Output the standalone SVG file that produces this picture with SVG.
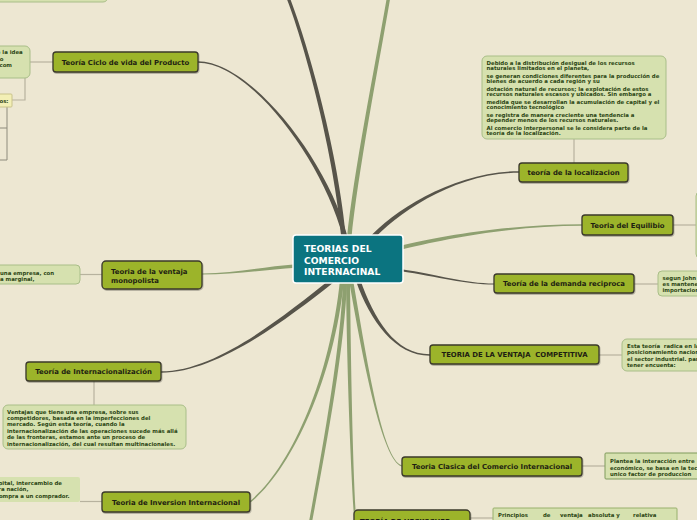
<svg xmlns="http://www.w3.org/2000/svg" width="697" height="520" viewBox="0 0 697 520">
<defs>
<style>
.node rect{fill:#9CB42B;stroke:#3B392A;stroke-width:1.3}
.nt{font-family:"DejaVu Sans",Verdana,sans-serif;font-weight:bold;font-size:6.9px;fill:#1E1E12}
.desc rect{fill:#D6E1AF;stroke:#A9BE88;stroke-width:1}
.dt{font-family:"DejaVu Sans",Verdana,sans-serif;font-weight:bold;font-size:5.4px;fill:#2C4614}
.lk{stroke:#B7B29E;stroke-width:1.2;fill:none}
.lk2{stroke:#8E8B7C;stroke-width:1;fill:none}
.dk{fill:#57544A}
.gr{fill:#8EA070}
</style>
<filter id="sh" x="-10%" y="-20%" width="120%" height="150%"><feDropShadow dx="0.6" dy="1" stdDeviation="0.6" flood-color="#000" flood-opacity="0.3"/></filter>
</defs>
<rect x="0" y="0" width="697" height="520" fill="#EDE7D2"/>

<g id="connectors">
<path class="dk" d="M347.2,235.4 C327.2,159.4 250,61.2 198,61.2 L198,62.8 C250,62.8 322.8,160.6 342.8,236.6 Z"/>
<path class="dk" d="M346.3,239.8 C338.3,149.8 306.5,39.4 288.5,-5.6 L285.5,-4.4 C303.5,40.6 333.7,150.2 341.7,240.2 Z"/>
<path class="gr" d="M351.2,240.2 C358.2,170.2 379.7,60.3 390.7,-4.7 L387.3,-5.3 C376.3,59.7 353.8,169.8 346.8,239.8 Z"/>
<path class="dk" d="M371.6,241.5 C396.6,213.5 455,172.8 519,172.8 L519,171.2 C455,171.2 393.4,210.5 368.4,238.5 Z"/>
<path class="gr" d="M400.5,249.9 C440.5,239.9 510,225.8 582,225.8 L582,224.2 C510,224.2 439.5,236.1 399.5,246.1 Z"/>
<path class="dk" d="M399.8,271.1 C439.8,277.1 465,284.6 494,284.6 L494,283.4 C465,283.4 440.2,274.9 400.2,268.9 Z"/>
<path class="dk" d="M355.9,280.7 C369.9,320.7 395,355.7 430,355.7 L430,354.3 C395,354.3 374.1,319.3 360.1,279.3 Z"/>
<path class="gr" d="M349,280.3 C363,360.3 381.9,460.5 401.9,466.6 L402.1,465.4 C382.1,459.5 367,359.7 353,279.7 Z"/>
<path class="gr" d="M346,280 C347,380 351,470 354,518 L356,518 C353,470 351,380 350,280 Z"/>
<path class="gr" d="M343,280 C341,350 320.5,459.7 307.5,529.7 L310.5,530.3 C323.5,460.3 345,350 347,280 Z"/>
<path class="gr" d="M340,279.8 C330,379.8 289.6,469.5 249.5,501.4 L250.5,502.6 C290.4,470.5 334,380.2 344,280.2 Z"/>
<path class="dk" d="M331.6,278.3 C278.6,320.3 215,371.3 161,371.3 L161,372.7 C215,372.7 281.4,323.7 334.4,281.7 Z"/>
<path class="gr" d="M296,264.3 C265,266.5 235,273.4 202,273.4 L202,274.6 C235,274.6 265,269.5 296,267.7 Z"/>
<path class="lk" d="M30,62 H53"/>
<path class="lk" d="M25,78 V100 H12"/>
<path class="lk2" d="M7,107 V160 H0 M0,128 H7"/>
<path class="lk" d="M80,274.5 H102"/>
<path class="lk" d="M94,381 V405"/>
<path class="lk" d="M80,501.5 H102"/>
<path class="lk" d="M574,139 V163"/>
<path class="lk" d="M673,225 H696"/>
<path class="lk" d="M634,284 H658"/>
<path class="lk" d="M599,355 H622"/>
<path class="lk" d="M582,466 H605"/>
<path class="lk" d="M470,518 H493"/>
</g>

<g id="center">
<rect x="293" y="235" width="110" height="48" rx="3" fill="#0B7480" stroke="#FFFFFF" stroke-width="1.5"/>
<text font-family="DejaVu Sans, Verdana, sans-serif" font-weight="bold" font-size="9.2" fill="#FFFFFF"><tspan x="304" y="252">TEORIAS DEL</tspan><tspan x="304" y="263.5">COMERCIO</tspan><tspan x="304" y="275">INTERNACINAL</tspan></text>
</g>

<g id="n-ciclo" class="node"><rect x="53" y="52" width="145" height="20" rx="3" filter="url(#sh)"/><text class="nt" x="125.5" y="64.5" text-anchor="middle">Teoría Ciclo de vida del Producto</text></g>
<g id="n-localizacion" class="node"><rect x="519" y="163" width="109" height="19" rx="3" filter="url(#sh)"/><text class="nt" x="573.5" y="175" text-anchor="middle">teoría de la localizacion</text></g>
<g id="n-equilibrio" class="node"><rect x="582" y="215" width="91" height="20" rx="3" filter="url(#sh)"/><text class="nt" x="627.5" y="227.5" text-anchor="middle">Teoria del Equilibio</text></g>
<g id="n-reciproca" class="node"><rect x="494" y="274" width="140" height="19" rx="3" filter="url(#sh)"/><text class="nt" x="564" y="286" text-anchor="middle">Teoría de la demanda reciproca</text></g>
<g id="n-competitiva" class="node"><rect x="430" y="345" width="169" height="19" rx="3" filter="url(#sh)"/><text class="nt" x="514.5" y="357" text-anchor="middle" style="white-space:pre">TEORIA DE LA VENTAJA  COMPETITIVA</text></g>
<g id="n-clasica" class="node"><rect x="402" y="457" width="180" height="19" rx="3" filter="url(#sh)"/><text class="nt" x="492" y="469" text-anchor="middle">Teoria Clasica del Comercio Internacional</text></g>
<g id="n-heckscher" class="node"><rect x="354" y="510" width="116" height="25" rx="4" filter="url(#sh)"/><text class="nt" x="360" y="523.5">TEORÍA DE HECKSCHER</text></g>
<g id="n-monopolista" class="node"><rect x="102" y="261" width="100" height="28" rx="4" filter="url(#sh)"/><text class="nt"><tspan x="111" y="274">Teoria de la ventaja</tspan><tspan x="111" y="283">monopolista</tspan></text></g>
<g id="n-internacionalizacion" class="node"><rect x="26" y="362" width="135" height="19" rx="3" filter="url(#sh)"/><text class="nt" x="93.5" y="374" text-anchor="middle">Teoría de Internacionalización</text></g>
<g id="n-inversion" class="node"><rect x="102" y="492" width="148" height="20" rx="3" filter="url(#sh)"/><text class="nt" x="176" y="504.5" text-anchor="middle">Teoria de Inversion Internacional</text></g>

<g id="d-top" class="desc"><rect x="-10" y="-30" width="118" height="32" rx="5"/></g>
<g id="d-ciclo" class="desc"><rect x="-20" y="46" width="50" height="32" rx="5"/><text class="dt" text-anchor="end"><tspan x="22.7" y="54">de la idea</tspan><tspan x="3.5" y="60.5">o</tspan><tspan x="12" y="67">com</tspan></text></g>
<g id="d-ciclo-sub"><rect x="-10" y="94" width="22" height="13" rx="1" fill="#F3EFB5" stroke="#C9C38A"/><text class="dt" x="8.5" y="103" text-anchor="end">os:</text></g>
<g id="d-monopolista" class="desc"><rect x="-20" y="265" width="100" height="19" rx="4"/><text class="dt"><tspan x="0" y="274.5">una empresa, con</tspan><tspan x="0" y="280.5">a marginal,</tspan></text></g>
<g id="d-internacionalizacion" class="desc"><rect x="3" y="405" width="183" height="44" rx="5"/><text class="dt"><tspan x="7" y="413.5">Ventajas que tiene una empresa, sobre sus</tspan><tspan x="7" y="419.9">competidores, basada en la imperfecciones del</tspan><tspan x="7" y="426.3">mercado.  Según esta teoría, cuando la</tspan><tspan x="7" y="432.7">internacionalización de las operaciones sucede más allá</tspan><tspan x="7" y="439.1">de las fronteras, estamos ante un proceso de</tspan><tspan x="7" y="445.5">internacionalización, del cual resultan multinacionales.</tspan></text></g>
<g id="d-inversion" class="desc"><rect x="-20" y="477" width="100" height="25" rx="2" style="stroke:none"/><text class="dt" text-anchor="end"><tspan x="62" y="485">capital, intercambio de</tspan><tspan x="28.5" y="491">otra nación,</tspan><tspan x="69.5" y="497.5">compra a un comprador.</tspan></text></g>
<g id="d-localizacion" class="desc"><rect x="482" y="56" width="184" height="83" rx="5"/><text class="dt"><tspan x="486.5" y="64.5">Debido a la distribución desigual de los recursos</tspan><tspan x="486.5" y="70.3">naturales limitados en el planeta,</tspan><tspan x="486.5" y="77.5">se generan condiciones diferentes para la producción de</tspan><tspan x="486.5" y="83.3">bienes de acuerdo a cada región y su</tspan><tspan x="486.5" y="90.5">dotación natural de recursos; la explotación de estos</tspan><tspan x="486.5" y="96.3">recursos naturales escasos y ubicados.  Sin embargo a</tspan><tspan x="486.5" y="103.5">medida que se desarrollan la acumulación de capital y el</tspan><tspan x="486.5" y="109.3">conocimiento tecnológico</tspan><tspan x="486.5" y="116.5">se registra de manera creciente una tendencia a</tspan><tspan x="486.5" y="122.3">depender menos de los recursos naturales.</tspan><tspan x="486.5" y="129.5">Al comercio interpersonal se le considera parte de la</tspan><tspan x="486.5" y="135.3">teoría de la localización.</tspan></text></g>
<g id="d-equilibrio" class="desc"><rect x="696" y="192" width="30" height="66" rx="4"/></g>
<g id="d-reciproca" class="desc"><rect x="658" y="271" width="60" height="25" rx="4"/><text class="dt"><tspan x="662.5" y="279.5">segun John</tspan><tspan x="662.5" y="286">es mantener</tspan><tspan x="662.5" y="292.3">importaciones</tspan></text></g>
<g id="d-competitiva" class="desc"><rect x="622" y="339" width="90" height="32" rx="5"/><text class="dt" style="white-space:pre"><tspan x="627" y="348">Esta teoría  radica en la</tspan><tspan x="627" y="354.2">posicionamiento nacional</tspan><tspan x="627" y="360.5">el sector industrial. para</tspan><tspan x="627" y="366.7">tener encuenta:</tspan></text></g>
<g id="d-clasica" class="desc"><rect x="605" y="453" width="110" height="26" rx="1" style="stroke:#7F9B5C"/><text class="dt"><tspan x="610" y="463">Plantea la interacción entre</tspan><tspan x="610" y="469.5">económico, se basa en la tecnología</tspan><tspan x="610" y="476">unico factor de produccion</tspan></text></g>
<g id="d-heckscher" class="desc"><rect x="493" y="508" width="184" height="30" rx="1" style="stroke:#98B06C"/><text class="dt"><tspan x="498" y="517">Principios</tspan><tspan x="543" y="517">de</tspan><tspan x="560" y="517">ventaja</tspan><tspan x="588" y="517">absoluta y</tspan><tspan x="633" y="517">relativa</tspan></text></g>
</svg>
